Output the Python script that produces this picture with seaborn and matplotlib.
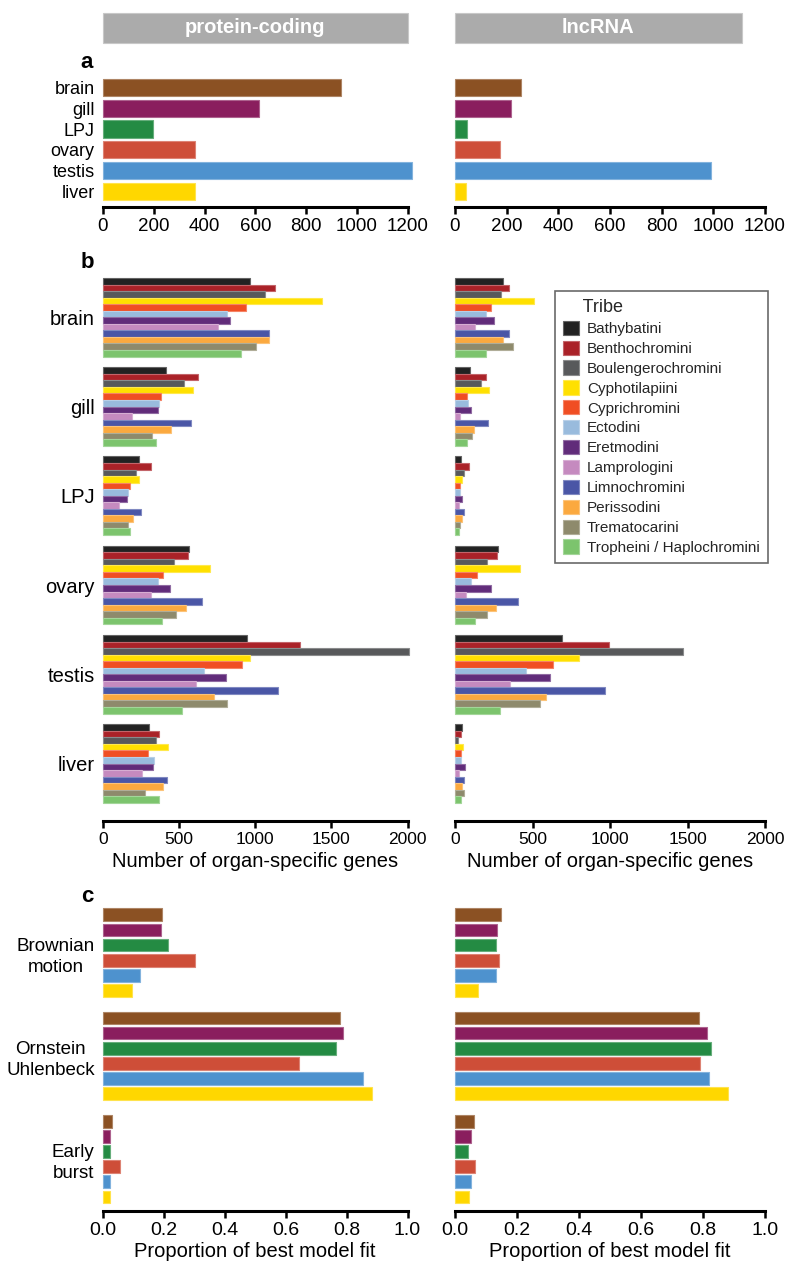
import numpy as np
import pandas as pd
import matplotlib
matplotlib.use('Agg')
import matplotlib.pyplot as plt
import matplotlib.colors as mcolors
from matplotlib.patches import Patch, Rectangle
import seaborn as sns

sns.set_theme(style='ticks')
plt.rcParams['font.family'] = ['Liberation Sans', 'DejaVu Sans']
NARROW = ['Liberation Sans Narrow', 'Liberation Sans', 'DejaVu Sans']
REGULAR = ['Liberation Sans', 'DejaVu Sans']

# ---- data ----
organs = ['brain', 'gill', 'LPJ', 'ovary', 'testis', 'liver']
organ_colors = ['#8B5123', '#8A1E5E', '#248B43', '#CE4E38', '#4E92CE', '#FFD700']

# a: organ-specific genes (all tribes)
pc_total = [939, 614, 198, 362, 1216, 362]
lnc_total = [256, 217, 46, 173, 991, 42]

# b: per tribe
tribes = ['Bathybatini', 'Benthochromini', 'Boulengerochromini', 'Cyphotilapiini',
          'Cyprichromini', 'Ectodini', 'Eretmodini', 'Lamprologini', 'Limnochromini',
          'Perissodini', 'Trematocarini', 'Tropheini / Haplochromini']
tribe_colors = ['#222222', '#AA2228', '#58595B', '#FFE000', '#F04E23', '#99BBDD',
                '#612C7A', '#C58ABF', '#4A56A6', '#FBA93F', '#8E8A6C', '#7CC46D']

pc_brain = [964, 1131, 1067, 1438, 940, 814, 836, 757, 1093, 1093, 1003, 909]
pc_gill = [411, 626, 531, 591, 378, 371, 362, 191, 577, 446, 325, 345]
pc_lpj = [237, 316, 215, 239, 178, 162, 156, 103, 248, 200, 167, 178]
pc_ovary = [566, 560, 468, 703, 393, 360, 441, 316, 650, 547, 481, 386]
pc_testis = [944, 1297, 2007, 968, 915, 665, 806, 608, 1148, 731, 812, 518]
pc_liver = [305, 371, 351, 426, 296, 336, 331, 259, 419, 391, 279, 369]

lnc_brain = [308, 351, 295, 512, 232, 202, 252, 126, 347, 310, 373, 197]
lnc_gill = [98, 200, 165, 219, 80, 82, 100, 33, 213, 124, 108, 80]
lnc_lpj = [39, 91, 56, 43, 30, 35, 48, 24, 59, 43, 35, 24]
lnc_ovary = [275, 271, 204, 421, 145, 106, 234, 74, 406, 265, 208, 132]
lnc_testis = [688, 993, 1471, 803, 633, 460, 610, 358, 965, 586, 547, 289]
lnc_liver = [46, 39, 17, 50, 41, 39, 65, 24, 61, 46, 56, 39]

# c: proportion of best model fit
models = ['Brownian\nmotion', 'Ornstein\nUhlenbeck', 'Early\nburst']
pc_bm = [0.194, 0.189, 0.214, 0.301, 0.121, 0.096]
pc_ou = [0.779, 0.788, 0.764, 0.643, 0.855, 0.882]
pc_eb = [0.029, 0.024, 0.022, 0.056, 0.024, 0.022]
lnc_bm = [0.149, 0.136, 0.131, 0.142, 0.131, 0.073]
lnc_ou = [0.788, 0.813, 0.826, 0.791, 0.820, 0.882]
lnc_eb = [0.061, 0.050, 0.041, 0.065, 0.050, 0.045]

# ---- tables ----
df_a_pc = pd.DataFrame({'organ': organs, 'n': pc_total})
df_a_lnc = pd.DataFrame({'organ': organs, 'n': lnc_total})


def tribe_table(rows):
    recs = []
    for organ, vals in zip(organs, rows):
        for tribe, v in zip(tribes, vals):
            recs.append({'organ': organ, 'tribe': tribe, 'n': v})
    return pd.DataFrame(recs)


df_b_pc = tribe_table([pc_brain, pc_gill, pc_lpj, pc_ovary, pc_testis, pc_liver])
df_b_lnc = tribe_table([lnc_brain, lnc_gill, lnc_lpj, lnc_ovary, lnc_testis, lnc_liver])


def model_table(rows):
    recs = []
    for model, vals in zip(models, rows):
        for organ, v in zip(organs, vals):
            recs.append({'model': model, 'organ': organ, 'p': v})
    return pd.DataFrame(recs)


df_c_pc = model_table([pc_bm, pc_ou, pc_eb])
df_c_lnc = model_table([lnc_bm, lnc_ou, lnc_eb])

# ---- figure ----
W, H = 800, 1273
fig = plt.figure(figsize=(W / 100, H / 100), dpi=100)


def px_axes(x0, y0, x1, y1):
    return fig.add_axes([x0 / W, 1 - y1 / H, (x1 - x0) / W, (y1 - y0) / H])


def lighten(c, f=0.3):
    r, g, b = mcolors.to_rgb(c)
    return (r + (1 - r) * f, g + (1 - g) * f, b + (1 - b) * f)


def style(ax, xmax, ticks, labels, tfont, tfs, yfont, yfs, show_y):
    sns.despine(ax=ax, left=True)
    ax.spines['bottom'].set_linewidth(2.2)
    ax.spines['bottom'].set_color('black')
    ax.set_xlim(0, xmax)
    ax.set_xticks(ticks, labels=labels)
    ax.tick_params(axis='x', bottom=True, length=5, width=1.8, color='black', pad=3)
    ax.tick_params(axis='y', left=False, length=0, pad=6, labelleft=show_y)
    for t in ax.get_xticklabels():
        t.set_family(tfont)
        t.set_fontsize(tfs)
        t.set_color('black')
    for t in ax.get_yticklabels():
        t.set_family(yfont)
        t.set_fontsize(yfs)
        t.set_color('black')
    ax.set_ylabel('')
    ax.set_xlabel('')
    for p in ax.patches:
        p.set_clip_on(False)
        p.set_edgecolor(lighten(p.get_facecolor()))
        p.set_linewidth(0.8)


XL = (103, 407.5)
XR = (455, 765)

# panel a
for df, (x0, x1), show in [(df_a_pc, XL, True), (df_a_lnc, XR, False)]:
    ax = px_axes(x0, 77, x1, 207)
    sns.barplot(data=df, y='organ', x='n', hue='organ', palette=organ_colors,
                order=organs, hue_order=organs, width=0.82, saturation=1,
                legend=False, ax=ax)
    ax.set_ylim(5.75, -0.5)
    ticks = list(range(0, 1201, 200))
    style(ax, 1200, ticks, [str(t) for t in ticks], NARROW, 13.5, NARROW, 13, show)

# panel b
axes_b = []
for df, (x0, x1), show in [(df_b_pc, XL, True), (df_b_lnc, XR, False)]:
    ax = px_axes(x0, 272.6, x1, 820.7)
    sns.barplot(data=df, y='organ', x='n', hue='tribe', palette=tribe_colors,
                order=organs, hue_order=tribes, width=0.88, gap=0, saturation=1,
                legend=False, ax=ax)
    ax.set_ylim(5.64, -0.5)
    ticks = [0, 500, 1000, 1500, 2000]
    style(ax, 2000, ticks, [str(t) for t in ticks], REGULAR, 12.5, REGULAR, 14.5, show)
    ax.set_xlabel('Number of organ-specific genes', fontsize=14.5, color='black', labelpad=4)
    axes_b.append(ax)

handles = [Patch(facecolor=c, edgecolor=lighten(c), linewidth=0.8) for c in tribe_colors]
leg = axes_b[1].legend(handles, tribes, title='    Tribe', loc='upper left',
                       bbox_to_anchor=(554.7 / W, 1 - 290.7 / H),
                       bbox_transform=fig.transFigure, borderaxespad=0,
                       frameon=True, fancybox=False, edgecolor='#444444',
                       fontsize=11, title_fontsize=13, handlelength=1.05,
                       handleheight=1.05, labelspacing=0.3, handletextpad=0.5,
                       borderpad=0.55, alignment='left')
leg.get_frame().set_linewidth(1.2)

# panel c
for df, (x0, x1), show in [(df_c_pc, XL, True), (df_c_lnc, XR, False)]:
    ax = px_axes(x0, 901, x1, 1210.7)
    sns.barplot(data=df, y='model', x='p', hue='organ', palette=organ_colors,
                order=models, hue_order=organs, width=0.88, gap=0.16, saturation=1,
                legend=False, ax=ax)
    ax.set_ylim(2.5, -0.5)
    ticks = [0.0, 0.2, 0.4, 0.6, 0.8, 1.0]
    style(ax, 1.0, ticks, [f'{t:.1f}' for t in ticks], NARROW, 14, NARROW, 13.5, show)
    for t in ax.get_yticklabels():
        t.set_multialignment('center')
        t.set_linespacing(1.3)
    ax.set_xlabel('Proportion of best model fit', fontsize=14.5, family=NARROW,
                  color='black', labelpad=2)

# header strips
for (x0, x1), label in [((103, 407.5), 'protein-coding'), ((455, 741.6), 'lncRNA')]:
    fig.patches.append(Rectangle((x0 / W, 1 - 42.7 / H), (x1 - x0) / W, 30 / H,
                                 transform=fig.transFigure, facecolor='#ABABAB',
                                 edgecolor='#C8C8C8', linewidth=0.8))
    fig.text((x0 + x1) / 2 / W, 1 - 27.7 / H, label, ha='center', va='center',
             color='white', fontsize=14.5, weight='bold', family=NARROW)

# panel letters
for lab, y in [('a', 62), ('b', 263), ('c', 896)]:
    fig.text(87 / W, 1 - y / H, lab, ha='center', va='center', fontsize=16,
             weight='bold', color='black')

fig.savefig('out.png', dpi=100)
